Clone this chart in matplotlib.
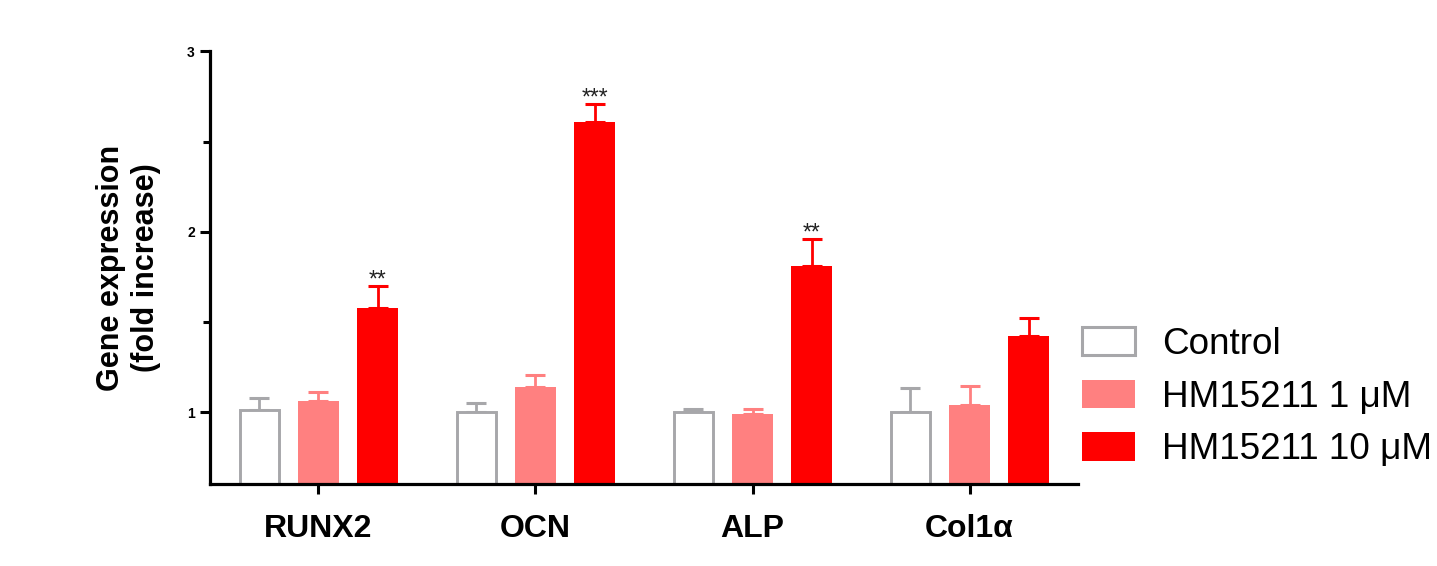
import matplotlib
matplotlib.use("Agg")
import matplotlib.pyplot as plt
import numpy as np
from matplotlib.patches import Patch

plt.rcParams['font.family'] = ['Liberation Sans', 'DejaVu Sans']

genes = ["RUNX2", "OCN", "ALP", "Col1\u03b1"]
series_names = ["Control", "HM15211 1 \u03bcM", "HM15211 10 \u03bcM"]

control_mean = [1.01, 1.00, 1.00, 1.00]
control_err = [0.07, 0.05, 0.017, 0.135]
low_mean = [1.06, 1.14, 0.99, 1.04]
low_err = [0.05, 0.065, 0.03, 0.105]
high_mean = [1.58, 2.61, 1.81, 1.42]
high_err = [0.12, 0.10, 0.15, 0.10]
significance = ["**", "***", "**", ""]

y_ticks = [1, 2, 3]

gray = "#A7A7AA"
pink = "#FF8080"
red = "#FF0000"

fig = plt.figure(figsize=(14.37, 5.66), dpi=100)
ax = fig.add_axes([0.1461, 0.144, 0.6041, 0.7654])

x = np.arange(len(genes))
offset = 0.273
width = 0.19

means = [control_mean, low_mean, high_mean]
errs = [control_err, low_err, high_err]
offsets = [-offset, 0, offset]
edge_colors = [gray, pink, red]
face_colors = ["white", pink, red]

for m, e, off, fc, ec in zip(means, errs, offsets, face_colors, edge_colors):
    xs = x + off
    if fc == "white":
        ax.bar(xs, np.array(m) - 0.6, bottom=0.6, width=width - 0.012,
               facecolor="white", edgecolor=ec, linewidth=2.1, zorder=2)
    else:
        ax.bar(xs, np.array(m) - 0.6, bottom=0.6, width=width,
               facecolor=fc, edgecolor="none", zorder=2)
    ax.errorbar(xs, m, yerr=[np.zeros(len(m)), e], fmt="none",
                ecolor=ec, elinewidth=2.0, capsize=7, capthick=2.2, zorder=1)

# significance stars above the 10 µM error bars
for xi, m, e, s in zip(x, high_mean, high_err, significance):
    if s:
        ax.text(xi + offset, m + e - 0.005, s, ha="center", va="baseline",
                fontsize=16.5, color="#222222")

ax.set_xlim(-0.5, 3.5)
ax.set_ylim(0.6, 3)
ax.set_xticks(x)
ax.set_xticklabels(genes, fontsize=23, fontweight="bold")
ax.set_yticks(y_ticks)
ax.set_yticklabels([str(t) for t in y_ticks], fontsize=10, fontweight="bold")
ax.set_yticks([1.5, 2.5], minor=True)
ax.tick_params(axis="y", which="major", length=7, width=2.2, pad=4)
ax.tick_params(axis="y", which="minor", length=5, width=2.2)
ax.tick_params(axis="x", length=7, width=2.2, pad=14)

for side in ["top", "right"]:
    ax.spines[side].set_visible(False)
for side in ["left", "bottom"]:
    ax.spines[side].set_linewidth(2.3)

ax.set_ylabel("Gene expression\n(fold increase)", fontsize=22,
              fontweight="bold", labelpad=19, linespacing=1.2)

handles = [Patch(facecolor="white", edgecolor=gray, linewidth=2.2),
           Patch(facecolor=pink, edgecolor="none"),
           Patch(facecolor=red, edgecolor="none")]
fig.legend(handles, series_names, loc="upper left",
           bbox_to_anchor=(1082 / 1437, 1 - 327 / 566),
           frameon=False, fontsize=26.6, handlelength=1.44, handleheight=0.8,
           handletextpad=0.72, labelspacing=0.48, borderpad=0, borderaxespad=0)

fig.savefig("out.png", dpi=100)
